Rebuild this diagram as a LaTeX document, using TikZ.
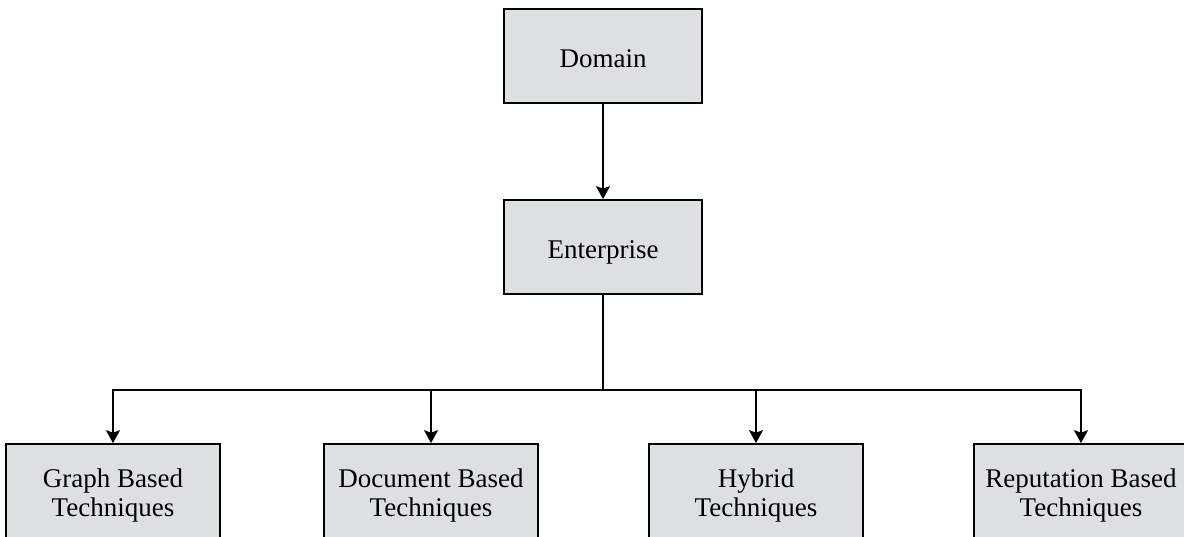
\documentclass[tikz,border=0pt]{standalone}
\usepackage{fontspec}
\setmainfont{Liberation Serif}
\usetikzlibrary{arrows.meta}
\definecolor{boxfill}{RGB}{221,224,225}
\tikzset{
  x=1pt, y=-1pt,
  box/.style={draw=black, line width=1.7pt, fill=boxfill, align=center,
    font=\fontsize{27}{29}\selectfont, inner sep=0pt},
  topbox/.style={box, minimum width=198pt, minimum height=94pt,
    text height=24pt, text depth=0pt},
  leafbox/.style={box, minimum width=214pt, minimum height=104pt},
  link/.style={line width=1.7pt, -{Stealth[length=13pt,width=14pt,inset=2.5pt]}},
  wire/.style={line width=1.7pt}
}
\begin{document}
\begin{tikzpicture}
\useasboundingbox (0,0) rectangle (1184,537);
\fill[white] (0,0) rectangle (1184,537);

% upper chain
\node[topbox] (dom) at (603,56) {Domain};
\node[topbox] (ent) at (603,247) {Enterprise};

% technique families
\node[leafbox] (graph) at (113,496) {Graph Based\\Techniques};
\node[leafbox] (doc) at (431,496) {Document Based\\Techniques};
\node[leafbox] (hyb) at (756,496) {Hybrid\\Techniques};
\node[leafbox] (rep) at (1081,496) {Reputation Based\\Techniques};

\coordinate (bus) at (603,390);

\draw[link] (dom) -- (ent);
\draw[wire] (ent) -- (bus);
\draw[link] (bus) -| (graph);
\draw[link] (bus) -| (doc);
\draw[link] (bus) -| (hyb);
\draw[link] (bus) -| (rep);
\end{tikzpicture}
\end{document}
